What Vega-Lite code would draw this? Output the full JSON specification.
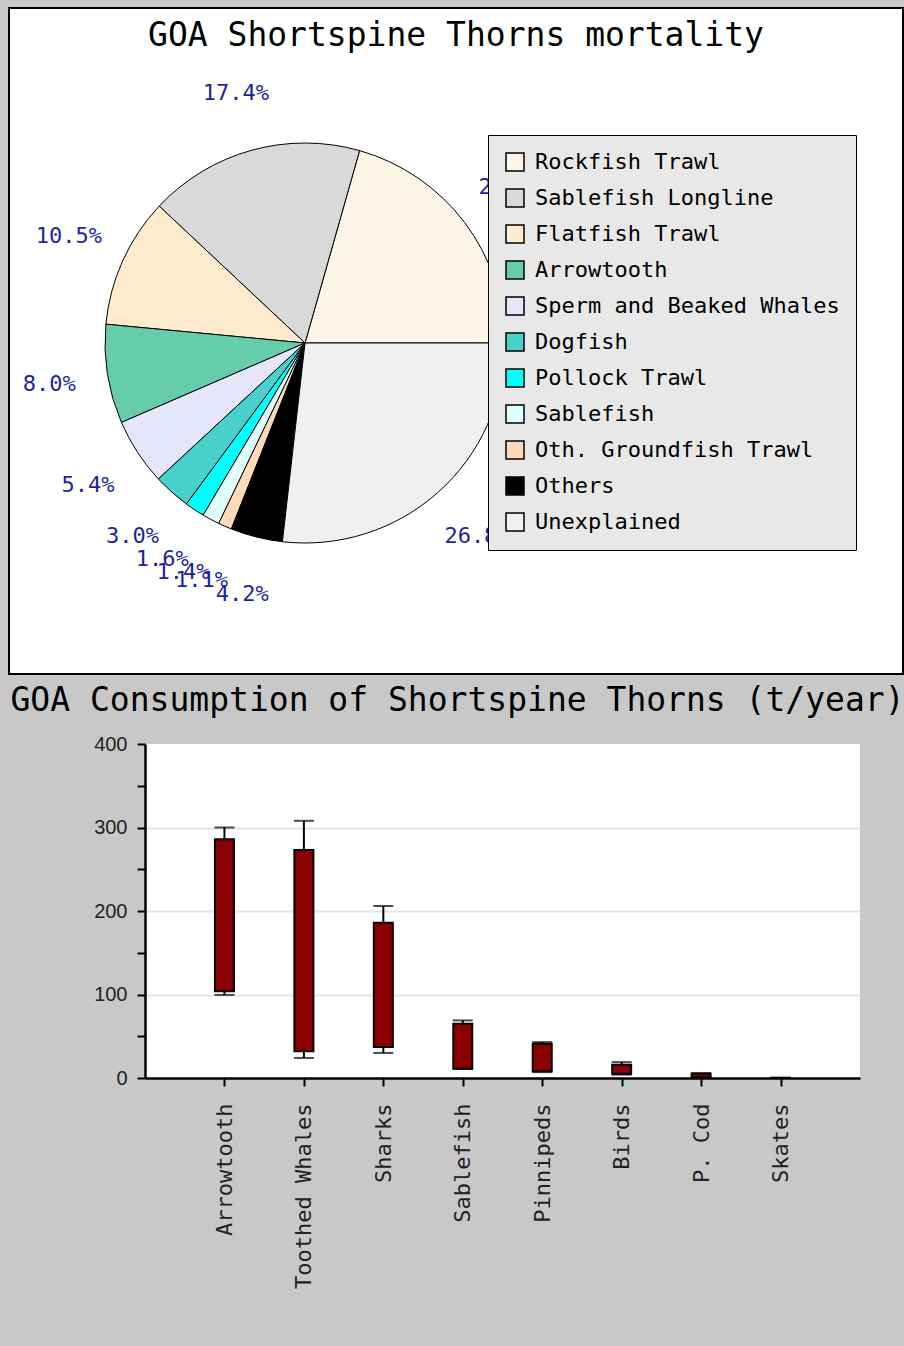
{
  "$schema": "https://vega.github.io/schema/vega-lite/v6.json",
  "background": "#c8c8c8",
  "padding": {"left": 8, "top": 7, "right": 2, "bottom": 61},
  "spacing": 10,
  "config": {
    "font": "DejaVu Sans Mono",
    "title": {"font": "DejaVu Sans Mono", "fontSize": 33, "fontWeight": "normal", "color": "black"}
  },
  "vconcat": [
    {
      "width": 894,
      "height": 666,
      "view": {"fill": "white", "stroke": "black", "strokeWidth": 2},
      "title": {"text": "GOA Shortspine Thorns mortality", "offset": -45, "anchor": "middle"},
      "data": {"values": [
        {"source": "Rockfish Trawl", "share": 0.206, "order": 1},
        {"source": "Sablefish Longline", "share": 0.174, "order": 2},
        {"source": "Flatfish Trawl", "share": 0.105, "order": 3},
        {"source": "Arrowtooth", "share": 0.080, "order": 4},
        {"source": "Sperm and Beaked Whales", "share": 0.054, "order": 5},
        {"source": "Dogfish", "share": 0.030, "order": 6},
        {"source": "Pollock Trawl", "share": 0.016, "order": 7},
        {"source": "Sablefish", "share": 0.014, "order": 8},
        {"source": "Oth. Groundfish Trawl", "share": 0.011, "order": 9},
        {"source": "Others", "share": 0.042, "order": 10},
        {"source": "Unexplained", "share": 0.268, "order": 11}
      ]},
      "encoding": {
        "theta": {"field": "share", "type": "quantitative", "stack": true, "scale": {"range": [1.5708, -4.7124]}},
        "order": {"field": "order", "type": "quantitative"}
      },
      "layer": [
        {
          "mark": {"type": "arc", "outerRadius": 200, "stroke": "black", "strokeWidth": 1, "x": 296, "y": 335},
          "encoding": {
            "color": {
              "field": "source", "type": "nominal",
              "scale": {
                "domain": ["Rockfish Trawl", "Sablefish Longline", "Flatfish Trawl", "Arrowtooth", "Sperm and Beaked Whales", "Dogfish", "Pollock Trawl", "Sablefish", "Oth. Groundfish Trawl", "Others", "Unexplained"],
                "range": ["#fdf5e6", "#d9d9d9", "#ffebcd", "#66cdaa", "#e6e6fa", "#48d1cc", "#00ffff", "#e0ffff", "#ffdab9", "#000000", "#f0f0f0"]
              },
              "legend": {
                "orient": "none", "legendX": 479, "legendY": 127,
                "title": null,
                "fillColor": "#e8e8e8", "strokeColor": "black",
                "padding": 16,
                "symbolType": "square", "symbolSize": 324,
                "symbolStrokeColor": "black", "symbolStrokeWidth": 1.5, "symbolOpacity": 1,
                "labelFont": "DejaVu Sans Mono", "labelFontSize": 22, "labelColor": "black",
                "labelLimit": 400, "labelOffset": 9, "rowPadding": 12
              }
            }
          }
        },
        {
          "mark": {"type": "text", "radius": 259, "x": 296, "y": 335, "fontSize": 22, "font": "DejaVu Sans Mono", "color": "#1f1fa0"},
          "encoding": {"text": {"field": "share", "type": "quantitative", "format": ".1%"}}
        }
      ]
    },
    {
      "spacing": 0,
      "hconcat": [
        {
          "width": 1,
          "height": 1,
          "view": {"stroke": null},
          "data": {"values": []},
          "mark": "point"
        },
        {
          "width": 715,
          "height": 334,
          "view": {"fill": "white", "stroke": null},
          "title": {"text": "GOA Consumption of Shortspine Thorns (t/year)", "offset": 16, "dx": -45, "anchor": "middle"},
          "data": {"values": [
            {"predator": "Arrowtooth", "wlo": 99.5, "lo": 104, "hi": 286, "whi": 300},
            {"predator": "Toothed Whales", "wlo": 24, "lo": 32, "hi": 273, "whi": 308},
            {"predator": "Sharks", "wlo": 30, "lo": 37, "hi": 186, "whi": 206},
            {"predator": "Sablefish", "wlo": 11, "lo": 11, "hi": 65, "whi": 69},
            {"predator": "Pinnipeds", "wlo": 7, "lo": 8, "hi": 41, "whi": 43},
            {"predator": "Birds", "wlo": 4, "lo": 5, "hi": 16, "whi": 19},
            {"predator": "P. Cod", "wlo": 0.5, "lo": 1, "hi": 5, "whi": 6},
            {"predator": "Skates", "wlo": 0, "lo": 0, "hi": 0.2, "whi": 0.3}
          ]},
          "encoding": {
            "x": {
              "field": "predator", "type": "nominal", "sort": null,
              "scale": {"type": "point", "padding": 1},
              "axis": {
                "title": null, "labelAngle": -90, "labelFont": "DejaVu Sans Mono", "labelFontSize": 22, "labelLimit": 400,
                "labelColor": "#222", "labelPadding": 17, "tickSize": 8, "tickColor": "black", "tickWidth": 2,
                "domainColor": "black", "domainWidth": 2.5, "grid": false
              }
            }
          },
          "layer": [
            {
              "mark": {"type": "rule", "color": "black", "strokeWidth": 2},
              "encoding": {
                "y": {"field": "wlo", "type": "quantitative", "scale": {"domain": [0, 400], "nice": false},
                  "axis": {
                    "title": null, "values": [0, 50, 100, 150, 200, 250, 300, 350, 400],
                    "labelExpr": "datum.value % 100 === 0 ? datum.label : ''",
                    "labelFont": "Liberation Sans", "labelFontSize": 20, "labelColor": "#222",
                    "labelPadding": 10, "tickSize": 8, "tickColor": "black", "tickWidth": 2,
                    "domainColor": "black", "domainWidth": 2.5, "minExtent": 132,
                    "grid": true, "gridWidth": 2,
                    "gridColor": {"condition": {"test": "datum.value % 100 === 0 && datum.value > 0 && datum.value < 400", "value": "#e4e4e4"}, "value": "transparent"}
                  }
                },
                "y2": {"field": "whi"}
              }
            },
            {
              "mark": {"type": "tick", "color": "black", "size": 20, "thickness": 2, "orient": "horizontal"},
              "encoding": {"y": {"field": "whi", "type": "quantitative"}}
            },
            {
              "mark": {"type": "tick", "color": "black", "size": 20, "thickness": 2, "orient": "horizontal"},
              "encoding": {"y": {"field": "wlo", "type": "quantitative"}}
            },
            {
              "mark": {"type": "bar", "width": 19, "fill": "#8b0000", "stroke": "black", "strokeWidth": 2},
              "encoding": {"y": {"field": "lo", "type": "quantitative"}, "y2": {"field": "hi"}}
            }
          ]
        }
      ]
    }
  ]
}
